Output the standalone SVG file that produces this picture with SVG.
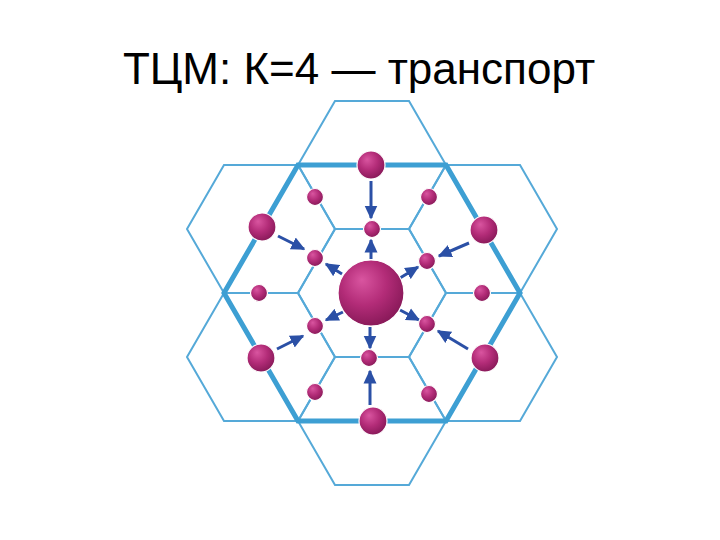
<svg xmlns="http://www.w3.org/2000/svg" width="720" height="540" viewBox="0 0 720 540">
<style>
  .hex{fill:none;stroke:#55a9d8;stroke-width:2;stroke-linejoin:miter}
  .big{fill:none;stroke:#3d9fd3;stroke-width:5;stroke-linejoin:miter}
  .ball{fill:url(#sph);stroke:#ffffff;stroke-width:1.2}
  .arr{stroke:#2b50a6;stroke-width:3;fill:none;marker-end:url(#ah)}
  .title{font-family:"Liberation Sans",Arial,sans-serif;font-size:44px;fill:#000}
</style>
<defs>
  <radialGradient id="sph" cx="0.42" cy="0.38" r="0.62" fx="0.36" fy="0.3">
    <stop offset="0" stop-color="#d955a0"/>
    <stop offset="0.55" stop-color="#b32c78"/>
    <stop offset="1" stop-color="#8a1a5a"/>
  </radialGradient>
  <marker id="ah" viewBox="0 0 14 14" markerWidth="14" markerHeight="14" refX="12.5" refY="7" orient="auto" markerUnits="userSpaceOnUse">
    <path d="M0,0.5 L14,7 L0,13.5 z" fill="#2b50a6"/>
  </marker>
</defs>
<rect width="720" height="540" fill="#ffffff"/>
<text class="title" x="359" y="84" text-anchor="middle">ТЦМ: К=4 — транспорт</text>
<g id="grid">
  <polygon class="hex" points="298,293 335,229 409,229 446,293 409,357 335,357"/>
  <polygon class="hex" points="298,165 335,101 409,101 446,165 409,229 335,229"/>
  <polygon class="hex" points="298,421 335,357 409,357 446,421 409,485 335,485"/>
  <polygon class="hex" points="409,229 446,165 520,165 557,229 520,293 446,293"/>
  <polygon class="hex" points="409,357 446,293 520,293 557,357 520,421 446,421"/>
  <polygon class="hex" points="187,229 224,165 298,165 335,229 298,293 224,293"/>
  <polygon class="hex" points="187,357 224,293 298,293 335,357 298,421 224,421"/>
  <polygon class="big" points="224,293 298,165 446,165 520,293 446,421 298,421"/>
</g>
<g id="connectors">
  <line class="arr" x1="371" y1="259" x2="371" y2="240"/>
  <line class="arr" x1="342" y1="274" x2="326" y2="264"/>
  <line class="arr" x1="400" y1="278" x2="418" y2="267"/>
  <line class="arr" x1="343" y1="312" x2="326" y2="320"/>
  <line class="arr" x1="400" y1="310" x2="419" y2="320"/>
  <line class="arr" x1="370" y1="327" x2="370" y2="348"/>
  <line class="arr" x1="371" y1="181" x2="371" y2="218"/>
  <line class="arr" x1="370" y1="405" x2="370" y2="371"/>
  <line class="arr" x1="278" y1="236" x2="304" y2="249"/>
  <line class="arr" x1="277" y1="349" x2="303" y2="336"/>
  <line class="arr" x1="469" y1="243" x2="439" y2="256"/>
  <line class="arr" x1="468" y1="349" x2="438" y2="331"/>
</g>
<g id="center"><circle class="ball" cx="371" cy="293" r="33"/></g>
<g id="cityN"><circle class="ball" cx="371" cy="165" r="14"/></g>
<g id="cityNW"><circle class="ball" cx="262" cy="227" r="14"/></g>
<g id="cityNE"><circle class="ball" cx="484" cy="230" r="14"/></g>
<g id="citySW"><circle class="ball" cx="261" cy="358" r="14"/></g>
<g id="citySE"><circle class="ball" cx="485" cy="358" r="14"/></g>
<g id="cityS"><circle class="ball" cx="373" cy="421" r="14"/></g>
<g id="v1"><circle class="ball" cx="372" cy="229" r="8.5"/></g>
<g id="v2"><circle class="ball" cx="427" cy="261" r="8.5"/></g>
<g id="v3"><circle class="ball" cx="427" cy="324" r="8.5"/></g>
<g id="v4"><circle class="ball" cx="369" cy="358" r="8.5"/></g>
<g id="v5"><circle class="ball" cx="315" cy="326" r="8.5"/></g>
<g id="v6"><circle class="ball" cx="315" cy="258" r="8.5"/></g>
<g id="v7"><circle class="ball" cx="315" cy="197" r="8.5"/></g>
<g id="v8"><circle class="ball" cx="429" cy="197" r="8.5"/></g>
<g id="v9"><circle class="ball" cx="259" cy="293" r="8.5"/></g>
<g id="v10"><circle class="ball" cx="482" cy="293" r="8.5"/></g>
<g id="v11"><circle class="ball" cx="315" cy="392" r="8.5"/></g>
<g id="v12"><circle class="ball" cx="429" cy="394" r="8.5"/></g>
</svg>
